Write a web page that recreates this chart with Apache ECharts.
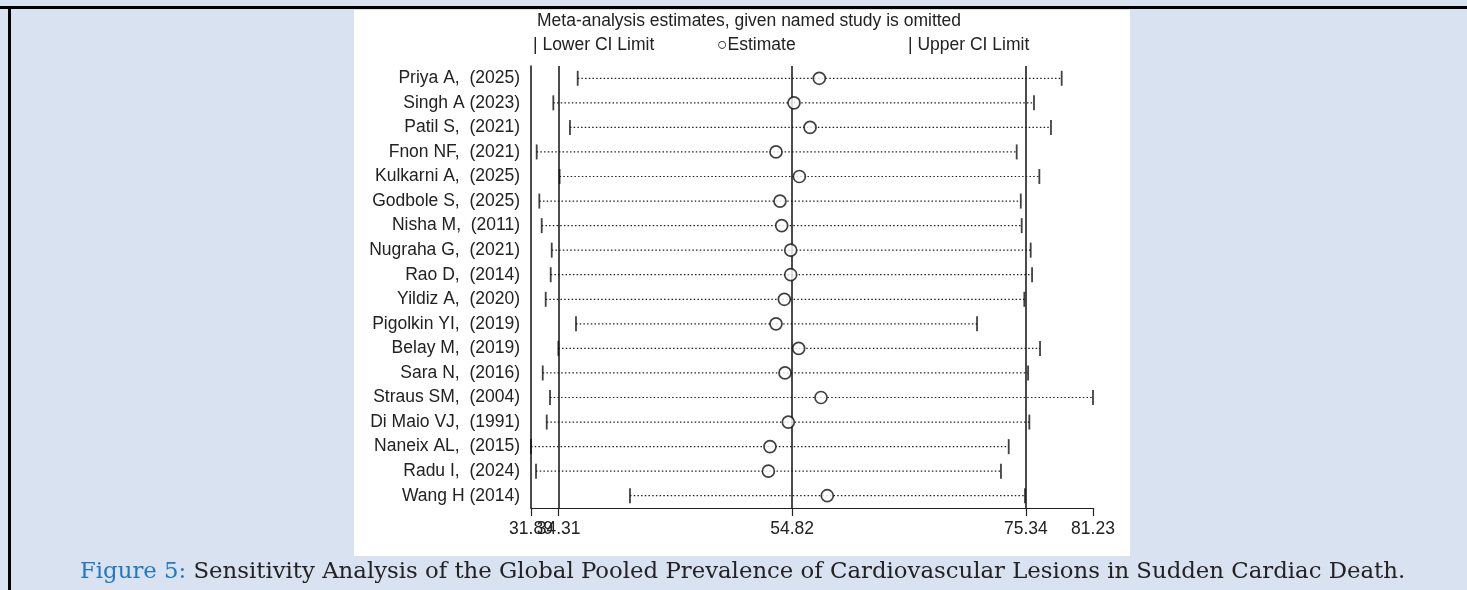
<!DOCTYPE html>
<html>
<head>
<meta charset="utf-8">
<script src="https://cdn.jsdelivr.net/npm/echarts@6/dist/echarts.min.js"></script>
<style>
  html, body { margin: 0; padding: 0; }
  #chart { width: 1467px; height: 590px; }
</style>
</head>
<body>
<div id="chart"></div>
<script>
// study omitted in each row
const studies = [
  'Priya A,  (2025)', 'Singh A (2023)', 'Patil S,  (2021)', 'Fnon NF,  (2021)',
  'Kulkarni A,  (2025)', 'Godbole S,  (2025)', 'Nisha M,  (2011)', 'Nugraha G,  (2021)',
  'Rao D,  (2014)', 'Yildiz A,  (2020)', 'Pigolkin YI,  (2019)', 'Belay M,  (2019)',
  'Sara N,  (2016)', 'Straus SM,  (2004)', 'Di Maio VJ,  (1991)', 'Naneix AL,  (2015)',
  'Radu I,  (2024)', 'Wang H (2014)'
];
const estimates = [57.20, 54.98, 56.39, 53.40, 55.45, 53.75, 53.90, 54.69, 54.69, 54.13, 53.40, 55.39, 54.19, 57.35, 54.48, 52.87, 52.73, 57.90];
const lowerCI = [35.99, 33.85, 35.31, 32.39, 34.40, 32.62, 32.83, 33.71, 33.62, 33.18, 35.84, 34.29, 32.92, 33.56, 33.27, 31.89, 32.33, 40.58];
const upperCI = [78.48, 76.05, 77.54, 74.53, 76.52, 74.89, 74.97, 75.76, 75.88, 75.20, 71.05, 76.58, 75.53, 81.23, 75.64, 73.83, 73.15, 75.26];

// pooled estimate and its CI, axis range
const pooled = [34.31, 54.82, 75.34];
const axisTicks = [31.89, 34.31, 54.82, 75.34, 81.23];

const chart = echarts.init(document.getElementById('chart'));

const font = 'Liberation Sans, Arial, sans-serif';
const fs = 17.5;
const xMin = axisTicks[0];
const xMax = axisTicks[axisTicks.length - 1];

const option = {
  backgroundColor: '#d9e2f1',
  animation: false,
  grid: { left: 531, right: 374, top: 66, bottom: 82 },
  xAxis: [
    {
      type: 'value',
      min: xMin,
      max: xMax,
      axisLine: { show: true, lineStyle: { color: '#222', width: 1.2 } },
      axisTick: { show: true, length: 8, customValues: axisTicks, lineStyle: { color: '#222', width: 1.2 } },
      axisLabel: {
        customValues: axisTicks.filter((v, i) => i !== 1),
        formatter: v => v.toFixed(2),
        color: '#222', fontSize: fs, fontFamily: font, margin: 12
      },
      splitLine: { show: false }
    },
    {
      // second label layer so the crowded 34.31 label is kept
      type: 'value',
      position: 'bottom',
      min: xMin,
      max: xMax,
      axisLine: { show: false },
      axisTick: { show: false },
      axisLabel: {
        customValues: [axisTicks[1]],
        formatter: v => v.toFixed(2),
        color: '#222', fontSize: fs, fontFamily: font, margin: 12
      },
      splitLine: { show: false }
    }
  ],
  yAxis: {
    type: 'category',
    inverse: true,
    data: studies,
    axisLine: { show: true, lineStyle: { color: '#111', width: 1.5 } },
    axisTick: { show: false },
    axisLabel: { color: '#222', fontSize: fs, fontFamily: font, margin: 11 }
  },
  graphic: [
    // white figure panel
    { type: 'rect', z: -10, shape: { x: 354, y: 10, width: 776, height: 546 }, style: { fill: '#fff' } },
    // page borders
    { type: 'rect', shape: { x: 0, y: 6, width: 1467, height: 3 }, style: { fill: '#000' } },
    { type: 'rect', shape: { x: 8, y: 6, width: 3, height: 584 }, style: { fill: '#000' } },
    { type: 'text', left: 537, top: 12, style: { text: 'Meta-analysis estimates, given named study is omitted', font: fs + 'px ' + font, fill: '#222' } },
    { type: 'text', left: 533, top: 36, style: { text: '| Lower CI Limit', font: fs + 'px ' + font, fill: '#222' } },
    { type: 'text', left: 717, top: 36, style: { text: '\u25CBEstimate', font: fs + 'px ' + font, fill: '#222' } },
    { type: 'text', left: 908, top: 36, style: { text: '| Upper CI Limit', font: fs + 'px ' + font, fill: '#222' } },
    {
      type: 'text', left: 80, top: 561,
      style: {
        text: '{b|Figure 5:} Sensitivity Analysis of the Global Pooled Prevalence of Cardiovascular Lesions in Sudden Cardiac Death.',
        font: '22.8px DejaVu Serif, serif', fill: '#222',
        rich: { b: { fill: '#2478c0', font: '22.8px DejaVu Serif, serif' } }
      }
    }
  ],
  series: [
    {
      name: 'CI range',
      type: 'custom',
      renderItem: (params, api) => {
        const a = api.coord([api.value(0), api.value(2)]);
        const b = api.coord([api.value(1), api.value(2)]);
        return {
          type: 'line',
          shape: { x1: a[0], y1: a[1], x2: b[0], y2: b[1] },
          style: { stroke: '#222', lineWidth: 1.2, lineDash: [1.5, 2.2] }
        };
      },
      encode: { x: 0, y: 2 },
      data: studies.map((s, i) => [lowerCI[i], upperCI[i], i])
    },
    {
      name: 'Lower CI Limit',
      type: 'scatter',
      symbol: 'rect',
      symbolSize: [1.8, 15],
      itemStyle: { color: '#111' },
      data: studies.map((s, i) => [lowerCI[i], i])
    },
    {
      name: 'Upper CI Limit',
      type: 'scatter',
      symbol: 'rect',
      symbolSize: [1.8, 15],
      itemStyle: { color: '#111' },
      data: studies.map((s, i) => [upperCI[i], i])
    },
    {
      name: 'Estimate',
      type: 'scatter',
      symbol: 'circle',
      symbolSize: 12,
      z: 5,
      itemStyle: { color: '#fff', borderColor: '#111', borderWidth: 1.7 },
      data: studies.map((s, i) => [estimates[i], i]),
      markLine: {
        silent: true,
        symbol: 'none',
        label: { show: false },
        lineStyle: { color: '#111', width: 1.5, type: 'solid' },
        data: pooled.map(v => ({ xAxis: v }))
      }
    }
  ]
};

chart.setOption(option);
</script>
</body>
</html>
